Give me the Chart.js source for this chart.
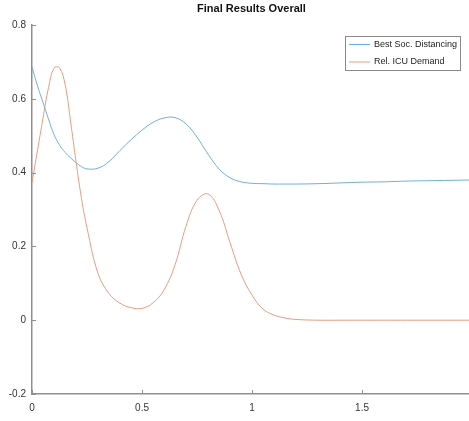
<!DOCTYPE html>
<html>
<head>
<meta charset="utf-8">
<script src="https://cdn.jsdelivr.net/npm/chart.js@4"></script>
<style>
  body { margin: 0; background: #fff; }
</style>
</head>
<body>
<canvas id="results-chart" width="469" height="421"></canvas>
<script>
// sample positions along the x-axis
const xValues = [0, 0.025, 0.05, 0.075, 0.1, 0.125, 0.15, 0.175, 0.2, 0.225, 0.25,
	0.3, 0.35, 0.4, 0.45, 0.5, 0.55, 0.6, 0.65, 0.7, 0.75, 0.8, 0.85, 0.9, 0.95,
	1.0, 1.05, 1.1, 1.15, 1.2, 1.3, 1.4, 1.5, 1.6, 1.7, 1.8, 1.9, 2.0];

const bestSocDistancing = [0.686, 0.635, 0.59, 0.545, 0.503, 0.475, 0.455, 0.44, 0.427, 0.416, 0.41,
	0.412, 0.43, 0.46, 0.489, 0.515, 0.536, 0.548, 0.549, 0.532, 0.496, 0.45, 0.41, 0.386, 0.375,
	0.371, 0.37, 0.369, 0.369, 0.369, 0.37, 0.372, 0.374, 0.375, 0.377, 0.378, 0.379, 0.38];

const relIcuDemand = [0.373, 0.46, 0.548, 0.63, 0.683, 0.684, 0.64, 0.54, 0.43, 0.33, 0.25,
	0.127, 0.072, 0.046, 0.034, 0.032, 0.047, 0.082, 0.15, 0.255, 0.325, 0.342, 0.298, 0.21, 0.125,
	0.068, 0.03, 0.014, 0.006, 0.002, 0.0, 0.0, 0.0, 0.0, 0.0, 0.0, 0.0, 0.0];

const seriesLabels = ['Best Soc. Distancing', 'Rel. ICU Demand'];
const chartTitle = 'Final Results Overall';
const xTickValues = [0, 0.5, 1, 1.5];
const yTickValues = [-0.2, 0, 0.2, 0.4, 0.6, 0.8];

const axisColor = '#8f8f8f';
const textColor = '#333333';
const fontFamily = '"Liberation Sans", Arial, Helvetica, sans-serif';

function toPoints(ys) {
	return xValues.map((x, i) => ({ x: x, y: ys[i] }));
}

// title centred over the axes, not the canvas
const axesTitle = {
	id: 'axesTitle',
	afterDraw(chart) {
		const ctx = chart.ctx;
		const area = chart.chartArea;
		ctx.save();
		ctx.font = 'bold 11px ' + fontFamily;
		ctx.fillStyle = '#111111';
		ctx.textAlign = 'center';
		ctx.textBaseline = 'middle';
		ctx.fillText(chartTitle, (area.left + area.right) / 2 + 1, 9);
		ctx.restore();
	}
};

// MATLAB-style inward tick marks
const innerTicks = {
	id: 'innerTicks',
	afterDraw(chart) {
		const ctx = chart.ctx;
		const xs = chart.scales.x;
		const ys = chart.scales.y;
		const area = chart.chartArea;
		ctx.save();
		ctx.strokeStyle = axisColor;
		ctx.lineWidth = 1;
		ctx.beginPath();
		xTickValues.forEach(v => {
			const px = Math.round(xs.getPixelForValue(v)) + 0.5;
			ctx.moveTo(px, area.bottom);
			ctx.lineTo(px, area.bottom - 4);
		});
		yTickValues.forEach(v => {
			const py = Math.round(ys.getPixelForValue(v)) + 0.5;
			ctx.moveTo(area.left, py);
			ctx.lineTo(area.left + 4, py);
		});
		ctx.stroke();
		ctx.restore();
	}
};

// boxed legend in the top right corner
const boxLegend = {
	id: 'boxLegend',
	afterDraw(chart) {
		const ctx = chart.ctx;
		const left = 345.5, top = 36.5, w = 115, h = 34;
		ctx.save();
		ctx.fillStyle = '#ffffff';
		ctx.fillRect(left, top, w, h);
		ctx.strokeStyle = '#8a8a8a';
		ctx.lineWidth = 1;
		ctx.strokeRect(left, top, w, h);
		ctx.font = '9px ' + fontFamily;
		ctx.textBaseline = 'middle';
		chart.data.datasets.forEach((ds, i) => {
			const y = 44.5 + i * 17.5;
			ctx.strokeStyle = ds.borderColor;
			ctx.beginPath();
			ctx.moveTo(349, y);
			ctx.lineTo(370, y);
			ctx.stroke();
			ctx.fillStyle = '#222222';
			ctx.fillText(ds.label, 374, y);
		});
		ctx.restore();
	}
};

const ctx = document.getElementById('results-chart').getContext('2d');
new Chart(ctx, {
	type: 'line',
	data: {
		datasets: [{
			label: seriesLabels[0],
			data: toPoints(bestSocDistancing),
			borderColor: '#6fb0d8',
			borderWidth: 1,
			pointRadius: 0,
			tension: 0.4,
			fill: false
		}, {
			label: seriesLabels[1],
			data: toPoints(relIcuDemand),
			borderColor: '#ec9a80',
			borderWidth: 1,
			pointRadius: 0,
			tension: 0.4,
			fill: false
		}]
	},
	options: {
		responsive: false,
		animation: false,
		layout: {
			padding: { top: 25, right: 0, bottom: 0, left: 0 }
		},
		plugins: {
			legend: { display: false },
			tooltip: { enabled: false },
			title: { display: false }
		},
		scales: {
			x: {
				type: 'linear',
				min: 0,
				max: 1.986,
				afterBuildTicks: scale => { scale.ticks = xTickValues.map(v => ({ value: v })); },
				afterFit: scale => { scale.height = 27; },
				border: { color: axisColor, width: 1.5 },
				grid: { display: false, drawTicks: false },
				ticks: {
					color: textColor,
					padding: 8,
					maxRotation: 0,
					font: { family: fontFamily, size: 10 },
					callback: v => String(v)
				}
			},
			y: {
				min: -0.2,
				max: 0.8,
				afterBuildTicks: scale => { scale.ticks = yTickValues.map(v => ({ value: v })); },
				afterFit: scale => { scale.width = 32; },
				border: { color: axisColor, width: 1.5 },
				grid: { display: false, drawTicks: false },
				ticks: {
					color: textColor,
					padding: 6,
					font: { family: fontFamily, size: 10 },
					callback: v => String(v)
				}
			}
		}
	},
	plugins: [innerTicks, boxLegend, axesTitle]
});
</script>
</body>
</html>
